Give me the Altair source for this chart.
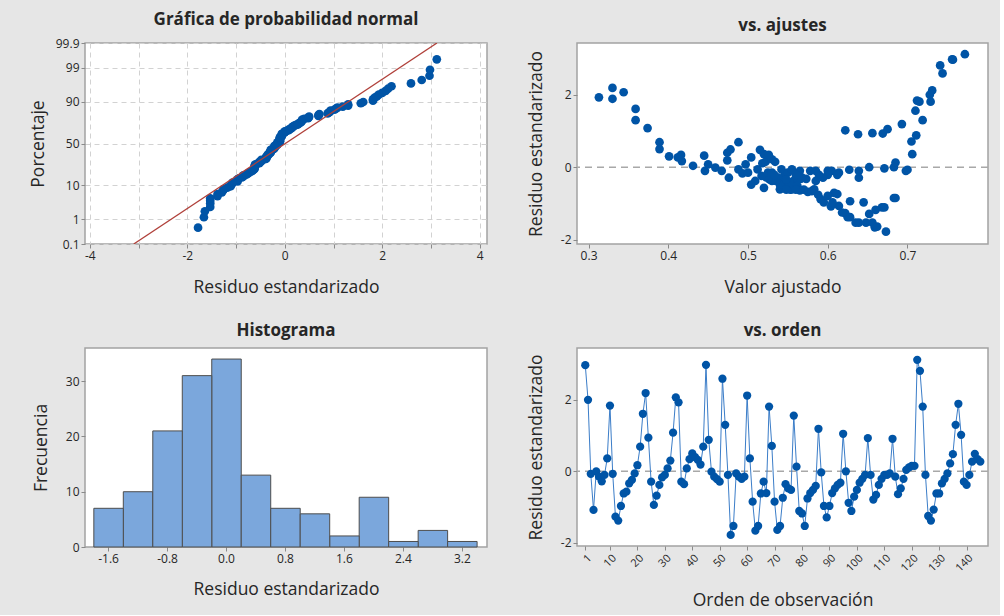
import altair as alt
import numpy as np
import pandas as pd
from statistics import NormalDist

# Standardized residuals in observation order
residuo = [
    2.97, 2.00, -0.07, -1.08, 0.00, -0.15, -0.28, -0.10, 0.36, 1.84,
    -0.07, -1.27, -1.38, -0.97, -0.62, -0.57, -0.34, -0.24, -0.06, 0.17,
    0.69, 1.61, 2.19, 0.94, -0.29, -0.94, -0.68, -0.38, -0.17, -0.10,
    0.08, 0.30, 1.08, 2.07, 1.93, -0.29, -0.36, 0.08, 0.34, 0.50,
    0.40, 0.32, 0.19, 0.69, 2.98, 0.88, -0.01, -0.15, -0.22, -0.29,
    2.59, 1.30, -0.10, -1.78, -1.53, -0.06, -0.15, -0.21, -0.15, 2.12,
    0.36, -0.85, -1.66, -1.53, -0.62, -0.29, -0.61, 1.81, 0.71, -0.85,
    -1.64, -1.53, -0.74, -0.36, -0.48, -0.52, 1.56, 0.13, -1.11, -1.18,
    -1.53, -0.76, -0.61, -0.52, -0.41, 1.19, -0.03, -0.97, -1.29, -0.97,
    -0.61, -0.48, -0.38, -0.32, 1.05, 0.00, -0.88, -1.11, -0.71, -0.52,
    -0.32, -0.21, -0.10, 0.93, -0.10, -0.79, -0.66, -0.38, -0.21, -0.10,
    -0.10, -0.06, 0.91, -0.15, -0.64, -0.48, -0.21, 0.04, 0.11, 0.15,
    0.15, 3.12, 2.81, 1.81, -0.10, -1.25, -1.38, -1.07, -0.62, -0.62,
    -0.34, -0.21, -0.06, 0.22, 0.48, 1.30, 1.89, 1.02, -0.29, -0.38,
    -0.10, 0.27, 0.49, 0.34, 0.27,
]

# Fitted values, same order
ajuste = [
    0.757, 0.728, 0.700, 0.604, 0.683, 0.614, 0.523, 0.600, 0.706, 0.712,
    0.627, 0.622, 0.625, 0.595, 0.553, 0.520, 0.527, 0.517, 0.488, 0.417,
    0.389, 0.359, 0.330, 0.656, 0.476, 0.628, 0.575, 0.509, 0.493, 0.446,
    0.450, 0.401, 0.374, 0.344, 0.313, 0.639, 0.543, 0.497, 0.416, 0.389,
    0.474, 0.445, 0.474, 0.488, 0.756, 0.711, 0.459, 0.500, 0.546, 0.538,
    0.744, 0.719, 0.467, 0.673, 0.639, 0.512, 0.525, 0.600, 0.530, 0.731,
    0.520, 0.683, 0.659, 0.635, 0.570, 0.568, 0.583, 0.729, 0.705, 0.685,
    0.662, 0.648, 0.612, 0.558, 0.545, 0.550, 0.710, 0.685, 0.668, 0.660,
    0.656, 0.588, 0.540, 0.556, 0.552, 0.693, 0.671, 0.645, 0.652, 0.606,
    0.555, 0.540, 0.535, 0.566, 0.675, 0.652, 0.591, 0.671, 0.608, 0.562,
    0.573, 0.612, 0.639, 0.669, 0.605, 0.600, 0.580, 0.530, 0.589, 0.578,
    0.565, 0.542, 0.638, 0.550, 0.565, 0.504, 0.560, 0.431, 0.518, 0.534,
    0.522, 0.772, 0.741, 0.715, 0.698, 0.618, 0.628, 0.614, 0.560, 0.548,
    0.548, 0.533, 0.555, 0.530, 0.515, 0.359, 0.330, 0.622, 0.594, 0.585,
    0.585, 0.504, 0.478, 0.526, 0.412,
]

orden = list(range(1, len(residuo) + 1))

pct_ticks = [0.1, 1, 10, 50, 90, 99, 99.9]
prob_x_ticks = [-4, -3, -2, -1, 0, 1, 2, 3, 4]
fit_ticks = [0.3, 0.4, 0.5, 0.6, 0.7]
res_ticks = [-2, 0, 2]
hist_ticks = [-1.6, -0.8, 0.0, 0.8, 1.6, 2.4, 3.2]
freq_ticks = [0, 10, 20, 30]
orden_ticks = [1] + list(range(10, 141, 10))

AZUL = "#0054a6"
AZUL_LINEA = "#3b7dc8"
ROJO = "#b0403a"
GRIS = "#a8a8a8"
BARRA = "#7ba7dc"
FUENTE = "Open Sans"
TXT = "#262626"

n = len(residuo)
nd = NormalDist()
z_ticks = [nd.inv_cdf(p / 100) for p in pct_ticks]
z_lo, z_hi = z_ticks[0], z_ticks[-1]
media = float(np.mean(residuo))
desv = float(np.std(residuo, ddof=1))

df = pd.DataFrame({"orden": orden, "residuo": residuo, "ajuste": ajuste})
recta = pd.DataFrame({"z": [z_lo, z_hi]})
recta["x"] = media + desv * recta["z"]
cero = pd.DataFrame({"y": [0.0]})

MENOS = "replace(datum.label, '\u2212', '-')"


def titulo(texto):
    return alt.TitleParams(texto, frame="group", fontSize=17, fontWeight="bold",
                           font=FUENTE, color=TXT, offset=8)


# --- Normal probability plot ---
sx1 = alt.Scale(domain=[-4.1, 4.15], nice=False, zero=False)
sy1 = alt.Scale(domain=[z_lo, z_hi], nice=False, zero=False)
ax1 = alt.Axis(values=prob_x_ticks, grid=True, gridDash=[5, 4], gridColor="#d2d2d2",
               labelExpr="datum.value % 2 == 0 ? replace(datum.label, '\u2212', '-') : ''",
               title="Residuo estandarizado", titlePadding=17)
ay1 = alt.Axis(values=z_ticks, grid=True, gridDash=[5, 4], gridColor="#d2d2d2",
               labelExpr="format(cumulativeNormal(datum.value) * 100, '.3~g')",
               title="Porcentaje", titlePadding=8)

puntos1 = (
    alt.Chart(df)
    .transform_window(rango="row_number()", sort=[alt.SortField("residuo", order="ascending")])
    .transform_calculate(z=f"quantileNormal((datum.rango - 0.3) / ({n} + 0.4))")
    .mark_circle(size=76, opacity=1, color=AZUL)
    .encode(x=alt.X("residuo:Q", scale=sx1, axis=ax1), y=alt.Y("z:Q", scale=sy1, axis=ay1))
)
linea1 = alt.Chart(recta).mark_line(color=ROJO, strokeWidth=1.3, clip=True).encode(
    x=alt.X("x:Q", scale=sx1, axis=ax1), y=alt.Y("z:Q", scale=sy1, axis=ay1)
)
p1 = alt.layer(puntos1, linea1).properties(
    width=402, height=201, title=titulo("Gráfica de probabilidad normal"))

# --- Residuals vs fits ---
sx2 = alt.Scale(domain=[0.2855, 0.801], nice=False, zero=False)
sy2 = alt.Scale(domain=[-2.12, 3.43], nice=False, zero=False)
ax2 = alt.Axis(values=fit_ticks, format=".1f", title="Valor ajustado", titlePadding=17)
ay2 = alt.Axis(values=res_ticks, labelExpr=MENOS, title="Residuo estandarizado", titlePadding=15)

cero2 = alt.Chart(cero).mark_rule(color=GRIS, strokeDash=[7, 5], strokeWidth=1.5).encode(
    y=alt.Y("y:Q", scale=sy2, axis=ay2))
puntos2 = alt.Chart(df).mark_circle(size=76, opacity=1, color=AZUL).encode(
    x=alt.X("ajuste:Q", scale=sx2, axis=ax2), y=alt.Y("residuo:Q", scale=sy2, axis=ay2))
p2 = alt.layer(cero2, puntos2).properties(width=411, height=201, title=titulo("vs. ajustes"))

# --- Histogram ---
sx3 = alt.Scale(domain=[-1.913, 3.541], nice=False, zero=False)
p3 = alt.Chart(df).mark_bar(color=BARRA, stroke="#4d4d4d", strokeWidth=1, binSpacing=0).encode(
    x=alt.X("residuo:Q", bin=alt.Bin(extent=[-1.8, 3.4], step=0.4, nice=False), scale=sx3,
            axis=alt.Axis(values=hist_ticks, format=".1f", labelExpr=MENOS,
                          title="Residuo estandarizado", titlePadding=16)),
    y=alt.Y("count():Q", scale=alt.Scale(domain=[0, 36], nice=False),
            axis=alt.Axis(values=freq_ticks, title="Frecuencia", titlePadding=15)),
).properties(width=402, height=199, title=titulo("Histograma"))

# --- Residuals vs order ---
sx4 = alt.Scale(domain=[-2.02, 147.8], nice=False, zero=False)
sy4 = alt.Scale(domain=[-2.09, 3.45], nice=False, zero=False)
ax4 = alt.Axis(values=orden_ticks, labelAngle=-45, labelFontSize=11,
               title="Orden de observación", titlePadding=18)
ay4 = alt.Axis(values=res_ticks, labelExpr=MENOS, title="Residuo estandarizado", titlePadding=15)

cero4 = alt.Chart(cero).mark_rule(color=GRIS, strokeDash=[7, 5], strokeWidth=1.5).encode(
    y=alt.Y("y:Q", scale=sy4, axis=ay4))
linea4 = alt.Chart(df).mark_line(color=AZUL_LINEA, strokeWidth=1).encode(
    x=alt.X("orden:Q", scale=sx4, axis=ax4), y=alt.Y("residuo:Q", scale=sy4, axis=ay4))
puntos4 = alt.Chart(df).mark_circle(size=68, opacity=1, color=AZUL).encode(
    x=alt.X("orden:Q", scale=sx4, axis=ax4), y=alt.Y("residuo:Q", scale=sy4, axis=ay4))
p4 = alt.layer(cero4, linea4, puntos4).properties(width=411, height=198, title=titulo("vs. orden"))

chart = (
    alt.concat(p1, p2, p3, p4, columns=2, spacing={"row": 104, "column": 90}, bounds="flush")
    .properties(background="#e6e6e6", padding={"left": 28, "top": 10, "right": 10, "bottom": 5})
    .configure_view(stroke="#a3a3a3", strokeWidth=1.5, fill="white")
    .configure_axis(domain=False, grid=False, tickColor="#8a8a8a", tickSize=4,
                    labelFont=FUENTE, labelFontSize=12, labelColor=TXT,
                    titleFont=FUENTE, titleFontSize=17.5, titleFontWeight="normal", titleColor=TXT)
)

chart.save("out.html", embed_options={"renderer": "svg", "actions": False})
